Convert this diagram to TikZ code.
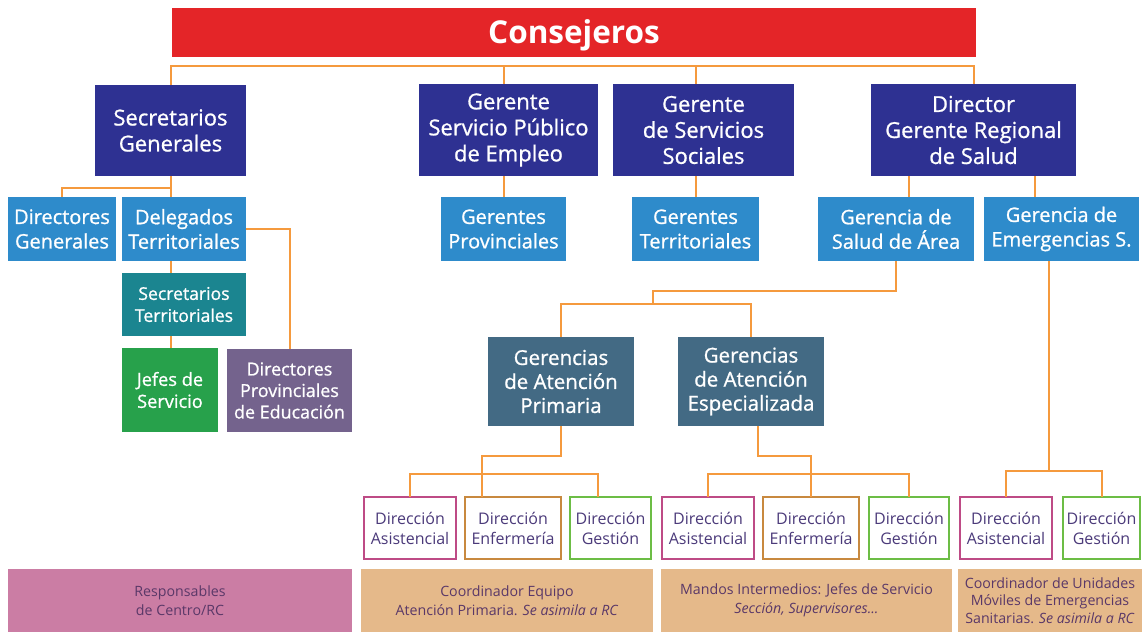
\documentclass[tikz,border=0pt]{standalone}
\usepackage{fontspec}
\setmainfont{Open Sans}
\newfontfamily\semif[FakeBold=0.9]{Open Sans}
\usetikzlibrary{calc}
\definecolor{cred}{HTML}{E42528}
\definecolor{dkblue}{HTML}{2E3192}
\definecolor{ltblue}{HTML}{2E8BCB}
\definecolor{teal}{HTML}{1B8590}
\definecolor{grn}{HTML}{27A14B}
\definecolor{purp}{HTML}{74638D}
\definecolor{slate}{HTML}{436A84}
\definecolor{orng}{HTML}{F59A3E}
\definecolor{pinkb}{HTML}{BE4B86}
\definecolor{brownb}{HTML}{C8893F}
\definecolor{greenb}{HTML}{6CBD45}
\definecolor{pinkf}{HTML}{CB7DA4}
\definecolor{tanf}{HTML}{E5B98A}
\definecolor{dtext}{HTML}{4B3A7A}
\definecolor{btext}{HTML}{5A3868}
\tikzset{
  box/.style={inner sep=0pt, outer sep=0pt, align=center, text=white},
  top/.style={box, fill=cred, font=\fontsize{31.5}{34}\bfseries\selectfont},
  dark/.style={box, fill=dkblue, font=\semif\fontsize{22}{26}\selectfont},
  light/.style={box, fill=ltblue, font=\semif\fontsize{20}{24.5}\selectfont},
  tealbox/.style={box, fill=teal, font=\semif\fontsize{17.6}{22}\selectfont},
  grnbox/.style={box, fill=grn, font=\semif\fontsize{18.2}{22}\selectfont},
  purbox/.style={box, fill=purp, font=\semif\fontsize{17.9}{21.5}\selectfont},
  slatebox/.style={box, fill=slate, font=\semif\fontsize{20.5}{24}\selectfont},
  dir/.style={box, fill=white, draw, line width=1.6pt, text=dtext, font=\fontsize{16}{20}\selectfont},
  bot/.style={box, text=btext, font=\fontsize{14.2}{18.5}\selectfont},
  conn/.style={draw=orng, line width=2pt},
}
\begin{document}
\begin{tikzpicture}[x=1pt, y=-1pt]
\useasboundingbox (0,0) rectangle (1142,632);
% level 0
\fill[cred] (172,8) rectangle (976,57);
\node[top, fill=none, minimum width=804pt, minimum height=49pt, yshift=-3pt] (cons) at (574,32.5) {Consejeros};
% level 1
\node[dark, minimum width=151pt, minimum height=91pt] (sg) at (170.5,130.5) {Secretarios\\Generales};
\node[dark, minimum width=179pt, minimum height=92pt] (gspe) at (508.5,130) {Gerente\\Servicio Público\\de Empleo};
\node[dark, minimum width=181pt, minimum height=92pt] (gss) at (703.5,130) {Gerente\\de Servicios\\Sociales};
\node[dark, minimum width=205pt, minimum height=92pt] (dgrs) at (973.5,130) {Director\\Gerente Regional\\de Salud};
% level 2
\node[light, minimum width=108pt, minimum height=64pt] (dg) at (62,229) {Directores\\Generales};
\node[light, minimum width=124pt, minimum height=64pt] (dt) at (184,229) {Delegados\\Territoriales};
\node[light, minimum width=125pt, minimum height=64pt] (gp) at (503.5,229) {Gerentes\\Provinciales};
\node[light, minimum width=127pt, minimum height=64pt] (gt) at (695.5,229) {Gerentes\\Territoriales};
\node[light, minimum width=156pt, minimum height=64pt] (gsa) at (896,229) {Gerencia de\\Salud de Área};
\node[light, minimum width=155pt, minimum height=64pt] (ges) at (1061.5,229) {Gerencia de\\Emergencias S.};
% left branch
\node[tealbox, minimum width=124pt, minimum height=63pt] (st) at (184,304.5) {Secretarios\\Territoriales};
\node[grnbox, minimum width=96pt, minimum height=84pt] (js) at (170,390) {Jefes de\\Servicio};
\node[purbox, minimum width=125pt, minimum height=83pt] (dpe) at (289.5,390.5) {Directores\\Provinciales\\de Educación};
% gerencias
\node[slatebox, minimum width=146pt, minimum height=89pt] (gap) at (561,381.5) {Gerencias\\de Atención\\Primaria};
\node[slatebox, minimum width=146pt, minimum height=89pt] (gae) at (751,381.5) {Gerencias\\de Atención\\Especializada};
% direcciones
\node[dir, draw=pinkb, minimum width=92pt, minimum height=62pt] (da1) at (410,528) {Dirección\\Asistencial};
\node[dir, draw=brownb, minimum width=96pt, minimum height=62pt] (de1) at (513,528) {Dirección\\Enfermería};
\node[dir, draw=greenb, minimum width=81pt, minimum height=62pt] (dge1) at (610.5,528) {Dirección\\Gestión};
\node[dir, draw=pinkb, minimum width=92pt, minimum height=62pt] (da2) at (708,528) {Dirección\\Asistencial};
\node[dir, draw=brownb, minimum width=96pt, minimum height=62pt] (de2) at (811,528) {Dirección\\Enfermería};
\node[dir, draw=greenb, minimum width=80pt, minimum height=62pt] (dge2) at (909,528) {Dirección\\Gestión};
\node[dir, draw=pinkb, minimum width=92pt, minimum height=62pt] (da3) at (1006,528) {Dirección\\Asistencial};
\node[dir, draw=greenb, minimum width=77pt, minimum height=62pt] (dge3) at (1101.5,528) {Dirección\\Gestión};
% bottom
\node[bot, fill=pinkf, minimum width=344pt, minimum height=63pt] (b1) at (180,600.5) {Responsables\\de Centro/RC};
\node[bot, fill=tanf, minimum width=292pt, minimum height=63pt] (b2) at (507,600.5) {Coordinador Equipo\\Atención Primaria. \textit{Se asimila a RC}};
\node[bot, fill=tanf, minimum width=291pt, minimum height=63pt] (b3) at (806.5,600.5) {Mandos Intermedios: Jefes de Servicio\\\textit{Sección, Supervisores...}};
\node[bot, fill=tanf, minimum width=184pt, minimum height=63pt, font=\fontsize{14.2}{17.5}\selectfont] (b4) at (1050,600.5) {Coordinador de Unidades\\Móviles de Emergencias\\Sanitarias. \textit{Se asimila a RC}};
% connectors
\coordinate (bus0) at (0,66);
\draw[conn] (sg.north) -- (sg.north |- bus0) -- (dgrs.north |- bus0) -- (dgrs.north);
\draw[conn] (gp.north |- bus0) -- (gp.north |- gspe.north);
\draw[conn] (gt.north |- bus0) -- (gt.north |- gss.north);
\draw[conn] (gp.north |- gspe.south) -- (gp.north);
\draw[conn] (gt.north |- gss.south) -- (gt.north);
\coordinate (k0) at ([xshift=38pt]dgrs.south west);
\coordinate (k1) at ([xshift=-41pt]dgrs.south east);
\draw[conn] (k0) -- (k0 |- gsa.north);
\draw[conn] (k1) -- (k1 |- ges.north);
% left
\coordinate (busL) at (0,188);
\draw[conn] (sg.south) -- (sg.south |- dt.north);
\draw[conn] (sg.south |- busL) -| (dg.north);
\draw[conn] (sg.south |- dt.south) -- (sg.south |- st.north);
\draw[conn] (sg.south |- st.south) -- (sg.south |- js.north);
\draw[conn] (dt.east) -| (dpe.north);
% salud de area
\coordinate (j1) at (653,304);
\draw[conn] (gsa.south) |- ($(j1)+(0,-13)$) -- (j1);
\draw[conn] (gap.north) |- (j1) -| (gae.north);
% primaria
\coordinate (busA) at (0,474);
\coordinate (busB) at (0,456);
\coordinate (e1) at ([xshift=17pt]de1.north west);
\coordinate (g1) at ([xshift=28pt]dge1.north west);
\draw[conn] (gap.south) |- (e1 |- busB) -- (e1);
\draw[conn] (da1.north) |- (g1 |- busA) -- (g1);
% especializada
\coordinate (k2) at ([xshift=80pt]gae.south west);
\draw[conn] (k2) |- (de2.north |- busB) -- (de2.north);
\draw[conn] (da2.north) |- (dge2.north |- busA) -- (dge2.north);
% emergencias
\coordinate (k3) at ([xshift=65pt]ges.south west);
\coordinate (busC) at (0,471);
\draw[conn] (k3) -- (k3 |- busC);
\draw[conn] (da3.north) |- (dge3.north |- busC) -- (dge3.north);
\end{tikzpicture}
\end{document}
